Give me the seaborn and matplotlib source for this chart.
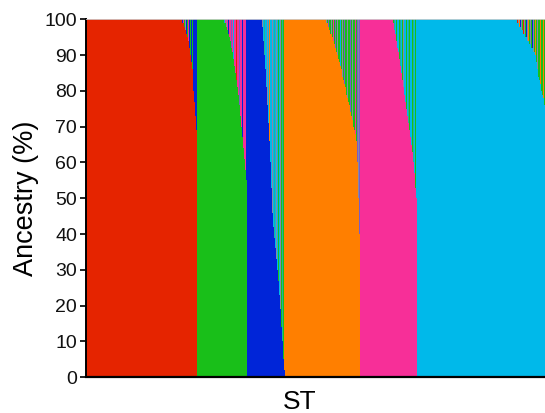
import numpy as np
import pandas as pd
import matplotlib
matplotlib.use("Agg")
import matplotlib.pyplot as plt
import seaborn as sns

# cluster colours (letter codes)
colors = {
    "R": "#e52400",  # red
    "G": "#19bf19",  # green
    "B": "#0025d8",  # blue
    "O": "#ff7f00",  # orange
    "P": "#f72f98",  # pink
    "C": "#00b9ea",  # cyan
    "Y": "#8888a8",  # grey
    "T": "#20b39a",  # teal
    "V": "#7a5cc6",  # purple
}

# order of the blocks along the x axis
block_order = ["R", "G", "B", "O", "P", "C"]

# number of individuals with ~100 % ancestry in each block
pure_counts = {"R": 96, "G": 26, "B": 14, "O": 41, "P": 32, "C": 100}

# admixed individuals at the right end of each block: dominant ancestry (%)
red_tail = [100, 99, 99, 98, 97, 96, 95, 94, 92, 90, 88, 86, 83, 80, 77, 73, 69]
green_tail = [100, 99, 99, 98, 97, 96, 95, 94, 92, 91, 89, 87, 85, 83, 81, 79, 76,
              73, 70, 67, 64, 61, 58, 55]
blue_tail = [100, 98, 94, 90, 86, 81, 76, 71, 66, 60, 53, 46, 42, 39, 36, 33, 30,
             27, 23, 19, 14, 10, 5, 2]
orange_tail = [100, 99, 99, 98, 97, 96, 96, 95, 94, 93, 92, 91, 90, 89, 88, 87, 86,
               84, 83, 82, 81, 79, 78, 77, 76, 74, 73, 72, 70, 69, 68, 66, 60, 50, 40]
pink_tail = [100, 99, 98, 97, 96, 94, 92, 91, 89, 87, 85, 83, 81, 79, 77, 75, 73,
             71, 69, 67, 65, 63, 60, 57, 53, 50]
cyan_tail = [100, 99, 99, 98, 98, 97, 97, 96, 96, 95, 95, 94, 94, 93, 93, 92, 92,
             91, 91, 90, 88, 86, 84, 83, 82, 80, 79, 78, 76]

# cluster that fills the remainder of each admixed individual
red_mix = "GBPGYBGPBGBGBBBBB"
green_mix = "PCPYPBPPVPCPPRPPVPPBPPPB"
blue_mix = "CYCTCCYCOCCYCTCYCGCYGTGO"
orange_mix = "GYGVGGYGPGVGYGGCGYGVGGYGGVGYGGPGVYV"
pink_mix = "CGCTCGCCGTCGYCCGCTGCCGTCGC"
cyan_mix = "RRYOBYGRYGBYOGYGBYGOGYGGOGGOG"

tails = {"R": (red_tail, red_mix), "G": (green_tail, green_mix),
         "B": (blue_tail, blue_mix), "O": (orange_tail, orange_mix),
         "P": (pink_tail, pink_mix), "C": (cyan_tail, cyan_mix)}

# build one row per individual
rows = []
for k in block_order:
    for _ in range(pure_counts[k]):
        rows.append((k, 100.0, k))
    vals, mix = tails[k]
    for v, m in zip(vals, mix):
        rows.append((k, float(v), m))
df = pd.DataFrame(rows, columns=["main", "pct", "other"])
df["ind"] = np.arange(len(df))
df["full"] = 100.0
n = len(df)

# plot
fig, ax = plt.subplots(figsize=(5.45, 4.13), dpi=100)
fig.subplots_adjust(left=0.157, right=1.0, top=0.953, bottom=0.087)

# background: remainder colour over the whole height
sns.barplot(data=df, x="ind", y="full", hue="other", palette=colors, dodge=False,
            native_scale=True, width=1, saturation=1, linewidth=0, errorbar=None,
            legend=False, antialiased=False, ax=ax)
# foreground: dominant ancestry
sns.barplot(data=df, x="ind", y="pct", hue="main", palette=colors, dodge=False,
            native_scale=True, width=1, saturation=1, linewidth=0, errorbar=None,
            legend=False, antialiased=False, ax=ax)

ax.set_xlim(-0.5, n - 0.5)
ax.set_ylim(0, 100)
ax.set_yticks(range(0, 101, 10))
ax.set_xticks([])
ax.tick_params(axis="y", labelsize=14, length=4.5, width=1.3, pad=1.5,
               colors="#111111")
for lab in ax.get_yticklabels():
    lab.set_family("Liberation Sans")

ax.spines["top"].set_color("#d0d0d0")
ax.spines["top"].set_linewidth(0.6)
ax.spines["right"].set_visible(False)
ax.spines["left"].set_linewidth(1.4)
ax.spines["bottom"].set_linewidth(1.6)

ax.set_ylabel("Ancestry (%)", fontsize=19.5, family="Liberation Sans", labelpad=4)
ax.set_xlabel("ST", fontsize=19, family="Liberation Sans")
ax.xaxis.set_label_coords(0.467, -0.035)

fig.savefig("out.png", dpi=100)
